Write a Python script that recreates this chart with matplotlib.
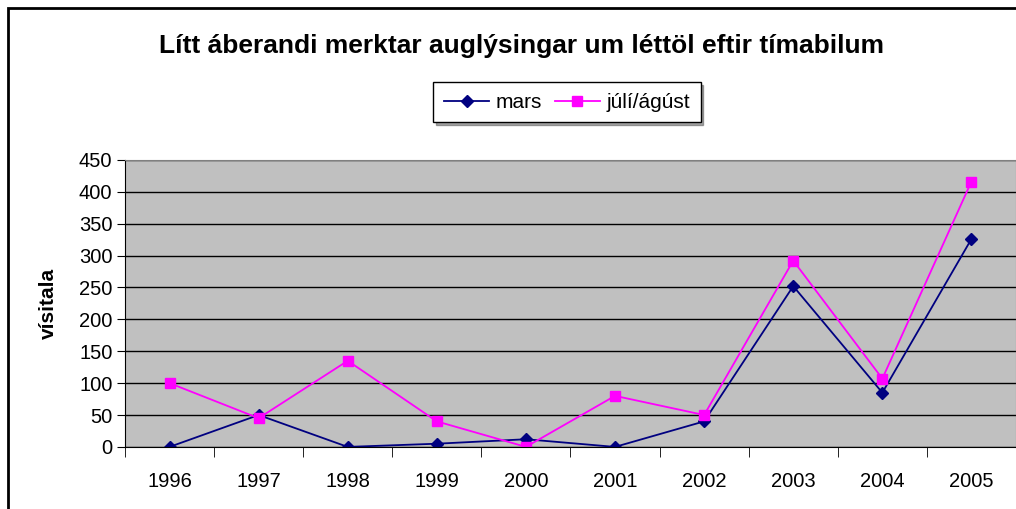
import matplotlib
matplotlib.use("Agg")
import matplotlib.pyplot as plt
from matplotlib.patches import Rectangle

plt.rcParams['font.family'] = ['Liberation Sans', 'DejaVu Sans']

# gögn
years = ['1996', '1997', '1998', '1999', '2000', '2001', '2002', '2003', '2004', '2005']
mars = [0, 50, 0, 5, 12, 0, 40, 252, 85, 326]
juli_agust = [100, 45, 135, 40, 0, 80, 50, 292, 107, 416]

fig = plt.figure(figsize=(10.16, 5.09), dpi=100)
ax = fig.add_axes([0.123, 0.122, 0.877, 0.564])
ax.set_facecolor('#C0C0C0')

x = list(range(len(years)))
ax.plot(x, mars, color='#000080', marker='D', markersize=6, lw=1.3, label='mars')
ax.plot(x, juli_agust, color='#FF00FF', marker='s', markersize=7, lw=1.3, label='júlí/ágúst')

ax.set_ylim(0, 450)
ax.set_yticks(range(0, 451, 50))
ax.set_xlim(-0.5, len(years) - 0.5)
ax.set_xticks(x)
ax.set_xticklabels(years)
ax.set_xticks([i - 0.5 for i in range(len(years) + 1)], minor=True)
ax.tick_params(axis='x', which='major', length=0, pad=18, labelsize=14.5)
ax.tick_params(axis='x', which='minor', length=7, direction='out', color='black')
ax.tick_params(axis='y', length=6, direction='out', labelsize=14.5, pad=3)
ax.yaxis.grid(True, color='black', lw=1)
ax.set_axisbelow(True)
for s in ['top', 'right']:
    ax.spines[s].set_color('#808080')
ax.spines['left'].set_color('black')
ax.spines['bottom'].set_color('black')

ax.set_ylabel('vísitala', fontsize=15, fontweight='bold')
ax.yaxis.set_label_coords(-0.075, 0.5)

fig.text(0.513, 0.91, 'Lítt áberandi merktar auglýsingar um léttöl eftir tímabilum',
         ha='center', va='center', fontsize=19, fontweight='bold')

leg = fig.legend(loc='center', bbox_to_anchor=(0.558, 0.799), ncol=2, fontsize=15,
                 frameon=True, fancybox=False, shadow=True, edgecolor='black',
                 handlelength=2.2, handletextpad=0.3, columnspacing=0.6,
                 borderpad=0.5)
leg.get_frame().set_linewidth(1)

# ramminn utan um myndina
fig.patches.append(Rectangle((0.008, -0.1), 1.2, 1.1 - 8 / 509, transform=fig.transFigure,
                             fill=False, edgecolor='black', lw=2))

fig.savefig('out.png', dpi=100)
